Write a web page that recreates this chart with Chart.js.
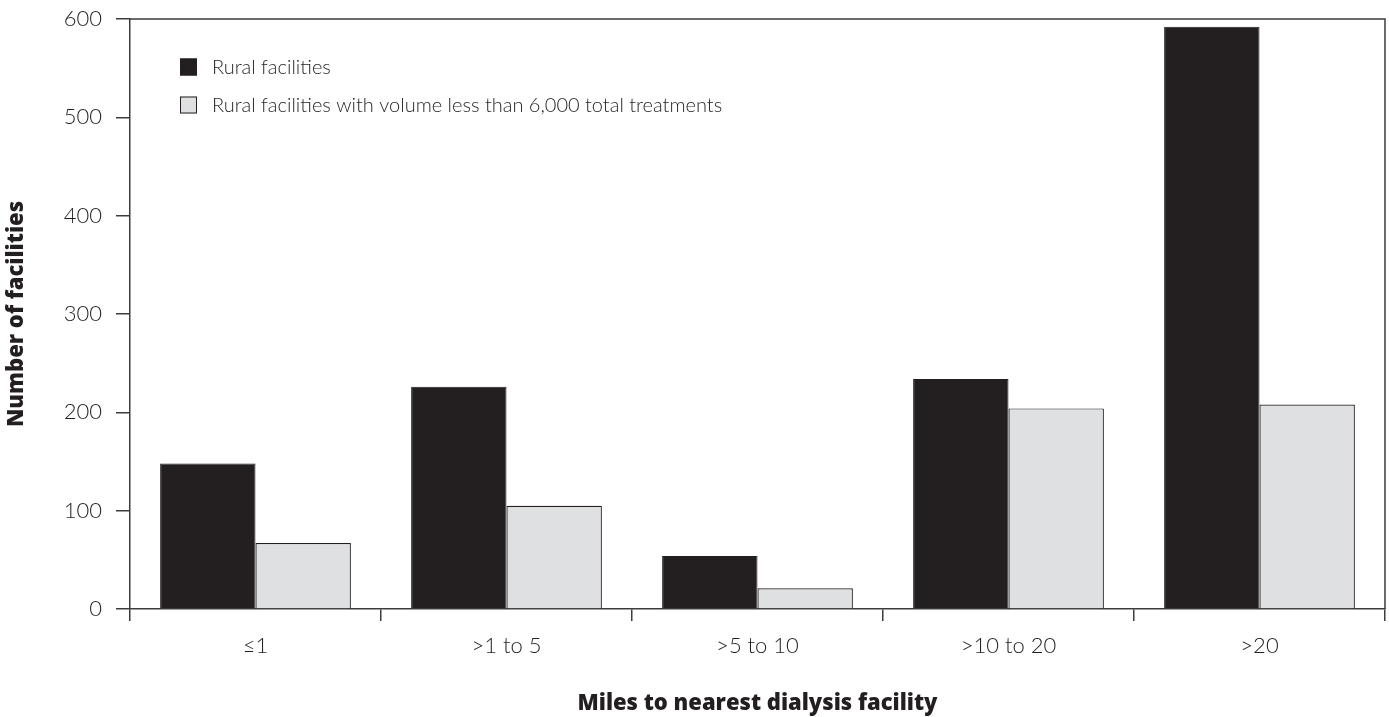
<!DOCTYPE html>
<html>
<head>
<meta charset="utf-8">
<script src="https://cdn.jsdelivr.net/npm/chart.js@4.4.1/dist/chart.umd.min.js"></script>
<style>
  html, body { margin: 0; padding: 0; background: #fff; }
  #wrap { width: 1389px; height: 717px; }
</style>
</head>
<body>
<div id="wrap"><canvas id="chart"></canvas></div>
<script>
// chart data
const categories = ['\u22641', '>1 to 5', '>5 to 10', '>10 to 20', '>20'];
const ruralFacilities = [148, 226, 54, 234, 592];
const lowVolumeFacilities = [67, 105, 21, 204, 208];
const yTicks = [0, 100, 200, 300, 400, 500, 600];

const ink = '#231f20';
const lineColor = '#3c3c3c';
const lightFont = { family: 'Lato', size: 22, weight: '300' };
const boldFont = { family: 'Open Sans', size: 22, weight: '800' };

// draws box on top/right of plot plus the legend inside
const framePlugin = {
  id: 'frame',
  afterDatasetsDraw(chart) {
    const { ctx, chartArea: a } = chart;
    ctx.save();
    ctx.strokeStyle = lineColor;
    ctx.lineWidth = 1.5;
    ctx.beginPath();
    ctx.moveTo(a.left, a.top);
    ctx.lineTo(a.right, a.top);
    ctx.lineTo(a.right, a.bottom);
    ctx.stroke();

    // legend
    ctx.font = '300 20px Lato';
    ctx.textBaseline = 'middle';
    chart.data.datasets.forEach((ds, i) => {
      const y = 67 + i * 38;
      ctx.fillStyle = ds.backgroundColor;
      ctx.fillRect(180, y - 8.5, 17, 17);
      ctx.strokeStyle = ink;
      ctx.lineWidth = 1;
      ctx.strokeRect(180.5, y - 8, 16, 16);
      ctx.fillStyle = ink;
      ctx.fillText(ds.label, 212, y + 1);
    });
    ctx.restore();
  }
};

new Chart(document.getElementById('chart'), {
  type: 'bar',
  data: {
    labels: categories,
    datasets: [
      {
        label: 'Rural facilities',
        data: ruralFacilities,
        backgroundColor: ink,
        borderColor: ink,
        borderWidth: 1
      },
      {
        label: 'Rural facilities with volume less than 6,000 total treatments',
        data: lowVolumeFacilities,
        backgroundColor: '#dfe0e2',
        borderColor: ink,
        borderWidth: 1.2
      }
    ]
  },
  options: {
    responsive: true,
    maintainAspectRatio: false,
    animation: false,
    datasets: { bar: { categoryPercentage: 0.76, barPercentage: 1 } },
    layout: { padding: { left: 0, right: 4, top: 19, bottom: 0 } },
    plugins: {
      legend: { display: false },
      tooltip: { enabled: false }
    },
    scales: {
      x: {
        grid: { display: true, drawOnChartArea: false, tickLength: 12, color: lineColor, lineWidth: 1.5, offset: true },
        border: { color: lineColor, width: 1.5 },
        ticks: { color: ink, font: lightFont, padding: 12 },
        title: {
          display: true,
          text: 'Miles to nearest dialysis facility',
          color: ink,
          font: boldFont,
          padding: { top: 0, bottom: 0 }
        },
        afterFit(scale) { scale.height = 108; }
      },
      y: {
        min: 0,
        max: 600,
        afterBuildTicks(scale) { scale.ticks = yTicks.map(v => ({ value: v })); },
        grid: { display: true, drawOnChartArea: false, tickLength: 14, color: lineColor, lineWidth: 1.5 },
        border: { color: lineColor, width: 1.5 },
        ticks: { color: ink, font: lightFont, padding: 14 },
        title: {
          display: true,
          text: 'Number of facilities',
          color: ink,
          font: boldFont,
          padding: { top: 4, bottom: 0 }
        },
        afterFit(scale) {
          scale.width = 130;
          scale.paddingTop = 0;
          scale.paddingBottom = 0;
        }
      }
    }
  },
  plugins: [framePlugin]
});
</script>
</body>
</html>
